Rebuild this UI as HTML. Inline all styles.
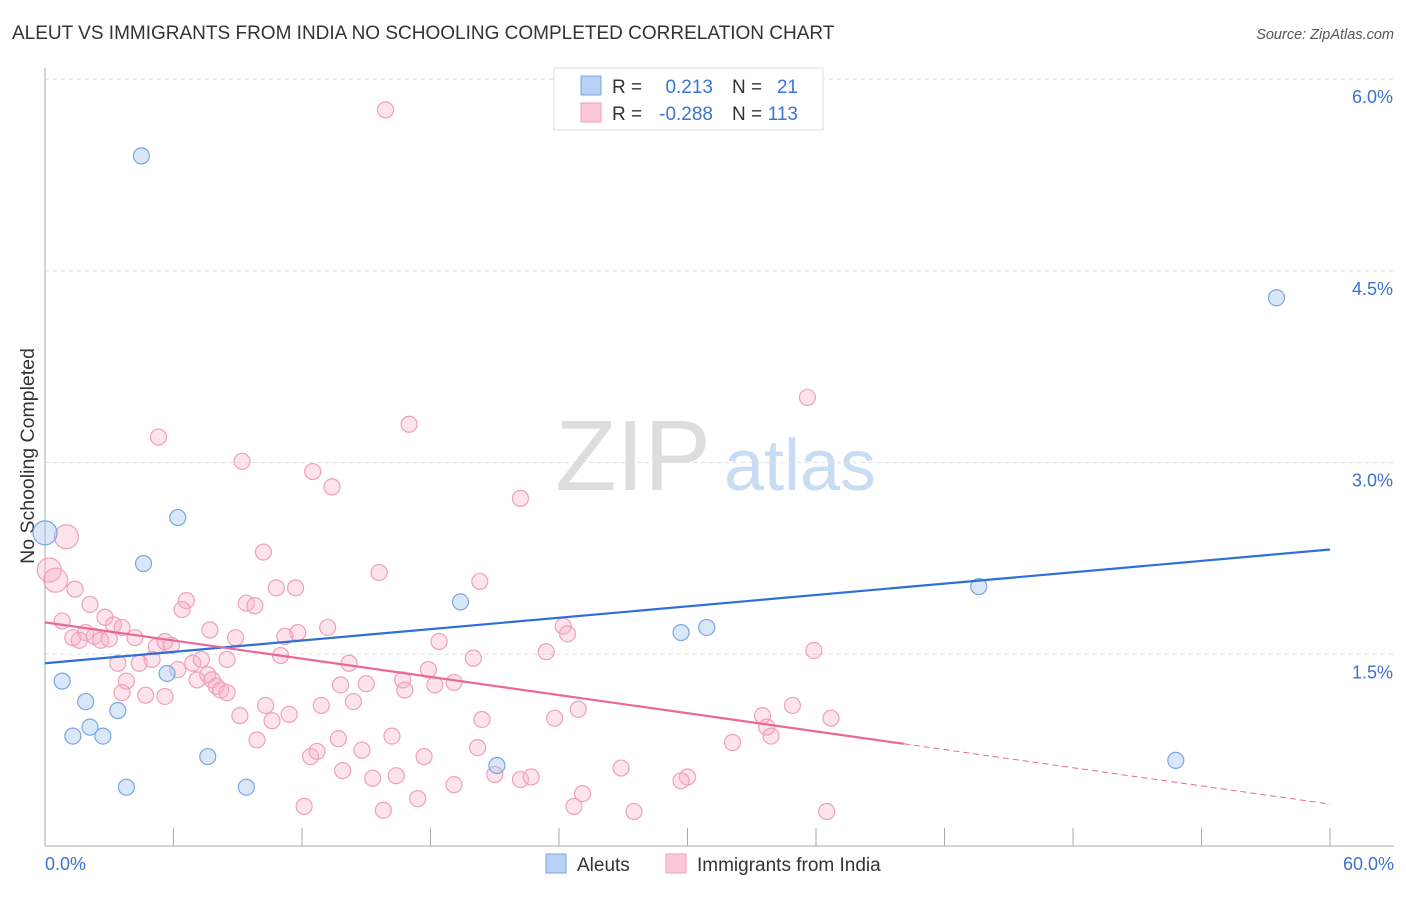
<!DOCTYPE html>
<html><head><meta charset="utf-8"><style>
body{margin:0;background:#fff;font-family:"Liberation Sans",sans-serif}
svg text{font-family:"Liberation Sans",sans-serif}
</style></head><body>
<svg id="c" width="1406" height="892" xmlns="http://www.w3.org/2000/svg">
<text x="12" y="39" font-size="19" fill="#333">ALEUT VS IMMIGRANTS FROM INDIA NO SCHOOLING COMPLETED CORRELATION CHART</text>
<text x="1394" y="39" font-size="14.5" fill="#555" font-style="italic" text-anchor="end">Source: ZipAtlas.com</text>
<text x="633" y="490" font-size="100" fill="#ddd" font-family="Liberation Serif" text-anchor="middle">ZIP</text>
<text x="800" y="490" font-size="72" fill="#c8dcf3" text-anchor="middle">atlas</text>
<text transform="translate(34,456) rotate(-90)" font-size="19.5" fill="#333" text-anchor="middle">No Schooling Completed</text>
<g id="grid"></g><g id="marks"></g>
<g>
<rect x="554" y="68" width="269" height="62" fill="#fff" stroke="#ddd"/>
<rect x="581" y="76" width="20" height="19" fill="#b8d2f6" stroke="#7aa6e0"/>
<rect x="581" y="103" width="20" height="19" fill="#fbc8d6" stroke="#f0a0b8"/>
<text x="612" y="93" font-size="19" fill="#333">R =</text><text x="713" y="93" font-size="19" fill="#3a74d0" text-anchor="end">0.213</text>
<text x="732" y="93" font-size="19" fill="#333">N =</text><text x="798" y="93" font-size="19" fill="#3a74d0" text-anchor="end">21</text>
<text x="612" y="120" font-size="19" fill="#333">R =</text><text x="713" y="120" font-size="19" fill="#3a74d0" text-anchor="end">-0.288</text>
<text x="732" y="120" font-size="19" fill="#333">N =</text><text x="798" y="120" font-size="19" fill="#3a74d0" text-anchor="end">113</text>
</g>
<g>
<rect x="546" y="854" width="20" height="19" fill="#b8d2f6" stroke="#7aa6e0"/>
<text x="577" y="871" font-size="19" fill="#333">Aleuts</text>
<rect x="666" y="854" width="20" height="19" fill="#fbc8d6" stroke="#f0a0b8"/>
<text x="697" y="871" font-size="19" fill="#333">Immigrants from India</text>
</g>
</svg>
<script>
const blueX=[0,4.5,6.2,4.6,0.8,1.9,3.4,2.1,1.3,2.7,5.7,3.8,7.6,9.4,19.4,21.1,29.7,30.9,43.6,57.5,52.8];
const blueY=[2.45,5.40,2.57,2.21,1.29,1.13,1.06,0.93,0.86,0.86,1.35,0.46,0.70,0.46,1.91,0.63,1.67,1.71,2.03,4.29,0.67];
const pinkX=[15.9,5.3,9.2,17.0,35.6,12.5,13.4,22.2,1.0,10.2,15.6,20.3,0.2,0.5,1.4,10.8,11.7,2.1,6.6,6.4,9.4,9.8,0.8,2.8,3.2,3.6,7.7,13.2,11.8,11.2,24.2,24.4,1.9,2.3,1.3,1.6,2.6,3.0,4.2,8.9,18.4,5.2,5.9,11.0,23.4,35.9,20.0,3.4,4.4,5.0,6.9,7.3,8.5,14.2,6.2,17.9,7.6,7.1,7.8,3.8,16.7,8.0,8.2,8.5,13.8,15.0,18.2,19.1,16.8,3.6,4.7,5.6,14.4,10.3,12.9,24.9,34.9,9.1,10.6,11.4,20.4,23.8,33.5,36.7,33.7,33.9,9.9,13.7,16.2,32.1,12.7,14.8,12.4,17.7,20.2,13.9,15.3,16.4,19.1,21.0,22.2,22.7,26.9,30.0,29.7,25.1,17.4,12.1,15.8,24.7,27.5,36.5,5.6];
const pinkY=[5.76,3.20,3.01,3.30,3.51,2.93,2.81,2.72,2.42,2.30,2.14,2.07,2.16,2.08,2.01,2.02,2.02,1.89,1.92,1.85,1.90,1.88,1.76,1.79,1.73,1.71,1.69,1.71,1.67,1.64,1.72,1.66,1.67,1.64,1.63,1.61,1.61,1.62,1.63,1.63,1.60,1.56,1.57,1.49,1.52,1.53,1.47,1.43,1.43,1.46,1.43,1.46,1.46,1.43,1.38,1.38,1.34,1.30,1.30,1.29,1.30,1.25,1.22,1.20,1.26,1.27,1.26,1.28,1.22,1.20,1.18,1.17,1.13,1.10,1.10,1.07,1.10,1.02,0.98,1.03,0.99,1.00,1.02,1.00,0.93,0.86,0.83,0.84,0.86,0.81,0.74,0.75,0.70,0.70,0.77,0.59,0.53,0.55,0.48,0.56,0.52,0.54,0.61,0.54,0.51,0.41,0.37,0.31,0.28,0.31,0.27,0.27,1.60];
const blueLargeIdx=[0];
const pinkLargeIdx=[8,12,13];
const yTicks=[1.5,3.0,4.5,6.0];
const blueTrend=[1.43,2.32];
const pinkTrend=[1.75,-0.0237];
const xs=v=>45+v/60*1285, ys=v=>846-v/1.5*191.7;
const NS="http://www.w3.org/2000/svg";
function mk(t,a,p){const e=document.createElementNS(NS,t);for(const k in a)e.setAttribute(k,a[k]);p.appendChild(e);return e;}
const g=document.getElementById('grid'),m=document.getElementById('marks');
yTicks.forEach(t=>{const l=mk('line',{x1:45,x2:1394,y1:ys(t),y2:ys(t),stroke:'#ddd','stroke-dasharray':'4,4'},g);


const tx=mk('text',{x:1393,y:ys(t)+24,'font-size':18,fill:'#3a74d0','text-anchor':'end'},g);tx.textContent=t.toFixed(1)+'%';

});
const ya=mk('line',{x1:45,x2:45,y1:68,y2:846,stroke:'#aaa'},g);


const xa=mk('line',{x1:45,x2:1394,y1:846,y2:846,stroke:'#aaa'},g);


for(let i=0;i<=10;i++){const t=mk('line',{x1:xs(i*6),x2:xs(i*6),y1:828,y2:846,stroke:'#aaa'},g);

}
[[0,'0.0%','start',45],[60,'60.0%','end',1394]].forEach(a=>{const t=mk('text',{x:a[3],y:870,'font-size':18,fill:'#3a74d0','text-anchor':a[2]},g);t.textContent=a[1];

});
pinkX.forEach((x,i)=>{const c=mk('circle',{cx:xs(x),cy:ys(pinkY[i]),r:pinkLargeIdx.includes(i)?12:8,fill:'rgba(248,175,198,0.35)',stroke:'#f0a0b8','stroke-width':1.2},m);

});
blueX.forEach((x,i)=>{const c=mk('circle',{cx:xs(x),cy:ys(blueY[i]),r:blueLargeIdx.includes(i)?12:8,fill:'rgba(160,195,240,0.4)',stroke:'#7aa6e0','stroke-width':1.2},m);

});
const bl=mk('line',{x1:xs(0),y1:ys(blueTrend[0]),x2:xs(60),y2:ys(blueTrend[1]),stroke:'#2f6fd6','stroke-width':2.2},m);


const pe=40.1;
const pl=mk('line',{x1:xs(0),y1:ys(pinkTrend[0]),x2:xs(pe),y2:ys(pinkTrend[0]+pinkTrend[1]*pe),stroke:'#e8689a','stroke-width':2.2},m);


const pd=mk('line',{x1:xs(pe),y1:ys(pinkTrend[0]+pinkTrend[1]*pe),x2:xs(60),y2:ys(pinkTrend[0]+pinkTrend[1]*60),stroke:'#e8689a','stroke-width':1,'stroke-dasharray':'6,4'},m);


</script>
</body></html>
